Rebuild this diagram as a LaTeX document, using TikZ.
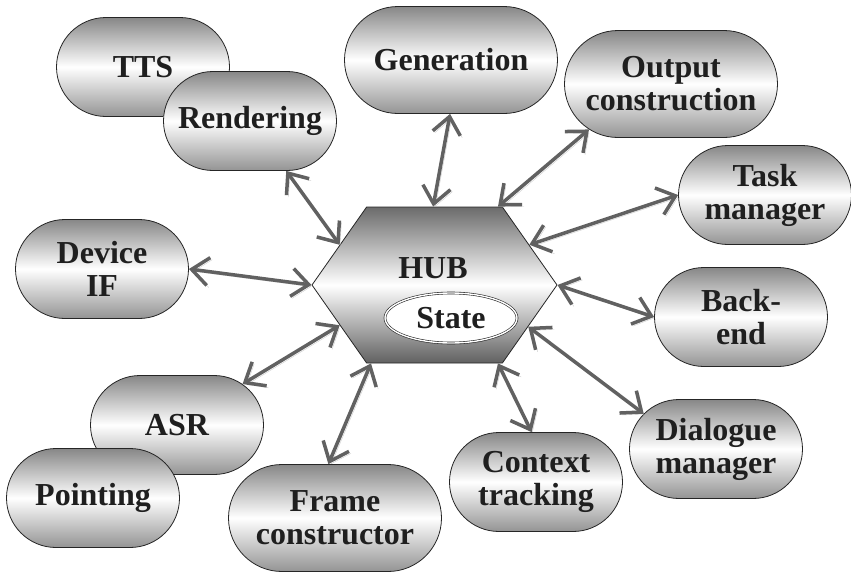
\documentclass[tikz,border=0pt]{standalone}
\usepackage{fontspec}
\setmainfont{Liberation Serif}
\usetikzlibrary{shapes.misc}
\usetikzlibrary{shapes.geometric}
\usetikzlibrary{shapes.symbols}
\usetikzlibrary{arrows.meta}
\usetikzlibrary{calc}

\begin{document}
\begin{tikzpicture}[x=1pt,y=-1pt,
  module/.style={rounded rectangle, draw=black!85, line width=0.8pt,
    top color=black!47, bottom color=black!42, middle color=white,
    minimum width=173pt, minimum height=99pt, inner sep=0pt, align=center,
    font=\fontsize{32}{33}\selectfont\bfseries, text=black!88},
  bigmodule/.style={module, minimum width=213pt, minimum height=107pt},
  hubshape/.style={signal, signal to=west and east, signal pointer angle=110,
    draw=black!85, line width=0.8pt,
    top color=black!58, bottom color=black!62, middle color=white,
    minimum width=245pt, minimum height=156pt, inner sep=0pt},
  statebox/.style={ellipse, draw=black!85, line width=0.6pt, double,
    double distance=1.4pt, fill=white, minimum width=132pt,
    minimum height=50pt, inner sep=0pt,
    font=\fontsize{32}{33}\selectfont\bfseries, text=black!88},
  link/.style={draw=black!62, line width=3.5pt, {Straight Barb[length=17pt,width=28pt]}-{Straight Barb[length=17pt,width=28pt]},
    preaction={draw=black!20, transform canvas={shift={(2pt,-2pt)}}}},
]

  \useasboundingbox (0,0) rectangle (851,573);

  % modules, back ones first
  \node[module]    (tts)   at (143,67)  {TTS};
  \node[module]    (rend)  at (250,121) {Rendering};
  \node[bigmodule] (gen)   at (451,60)  {Generation};
  \node[bigmodule] (outc)  at (671,84)  {Output\\construction};
  \node[module]    (task)  at (765,195) {Task\\manager};
  \node[module]    (dev)   at (102,269) {Device\\IF};
  \node[module]    (back)  at (741,317) {Back-\\end};
  \node[module]    (asr)   at (177,425) {ASR};
  \node[module]    (point) at (93,498)  {Pointing};
  \node[module]    (dlg)   at (716,449) {Dialogue\\manager};
  \node[module]    (ctx)   at (536,482) {Context\\tracking};
  \node[bigmodule] (frame) at (335,518) {Frame\\constructor};

  % the hub with its state
  \node[hubshape] (hub) at (434.5,285) {};
  \node[font=\fontsize{32}{33}\selectfont\bfseries, text=black!88] (hublbl) at (433,268) {HUB};
  \node[statebox] (state) at (451,318) {State};

  % links to the hub
  \draw[link] (rend.-54)  -- (hub.157);
  \draw[link] (dev.east)  -- (hub.180);
  \draw[link] (asr.32)    -- (hub.-157);
  \draw[link] (gen.-91)   -- (hub.91);
  \draw[link] (outc.209)  -- (hub.51);
  \draw[link] (task.west) -- (hub.23);
  \draw[link] (back.west) -- (hub.0);
  \draw[link] (dlg.154)   -- (hub.-24);
  \draw[link] (ctx.95)    -- (hub.-51);
  \draw[link] (frame.97)  -- (hub.-129);

\end{tikzpicture}
\end{document}
